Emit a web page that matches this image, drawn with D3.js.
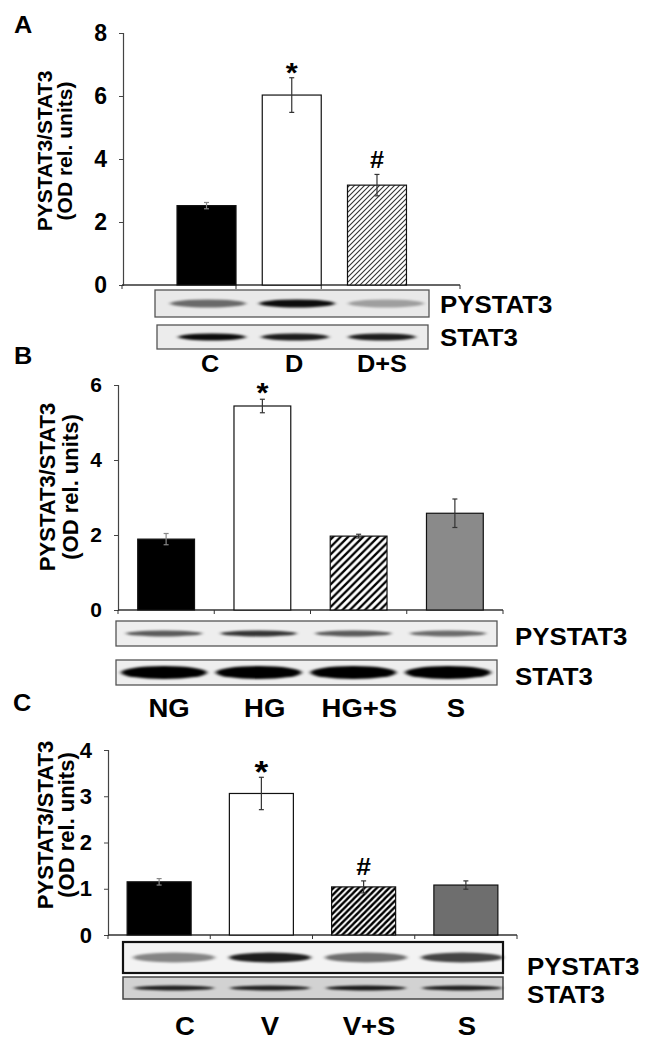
<!DOCTYPE html>
<html><head><meta charset="utf-8">
<script src="https://cdn.jsdelivr.net/npm/d3@7/dist/d3.min.js"></script>
<style>
body{margin:0;background:#fff;}
svg{display:block;font-family:"Liberation Sans",Arial,sans-serif;}
text{font-weight:bold;fill:#000;}
</style></head><body>
<svg id="fig" width="655" height="1050"></svg>
<script>
// ---------- DATA ----------
const catsA = ["C", "D", "D+S"];
const valsA = [2.52, 6.03, 3.17];
const errA  = [0.10, 0.55, 0.34];
const marksA = ["", "*", "#"];
const ticksA = [0, 2, 4, 6, 8];
const pyBandA = [0.55, 0.95, 0.32];
const stBandA = [0.95, 0.88, 0.88];

const catsB = ["NG", "HG", "HG+S", "S"];
const valsB = [1.89, 5.44, 1.97, 2.58];
const errB  = [0.15, 0.18, 0.05, 0.38];
const marksB = ["", "*", "", ""];
const ticksB = [0, 2, 4, 6];
const pyBandB = [0.62, 0.78, 0.62, 0.55];
const stBandB = [1, 1, 1, 1];

const catsC = ["C", "V", "V+S", "S"];
const valsC = [1.15, 3.06, 1.04, 1.08];
const errC  = [0.07, 0.35, 0.13, 0.09];
const marksC = ["", "*", "#", ""];
const ticksC = [0, 1, 2, 3, 4];
const pyBandC = [0.45, 0.88, 0.55, 0.72];
const stBandC = [0.85, 0.85, 0.88, 0.85];

const blotLabels = ["PYSTAT3", "STAT3"];
const yTitle = ["PYSTAT3/STAT3", "(OD rel. units)"];
const panelLetters = ["A", "B", "C"];

// ---------- DRAW ----------
const svg = d3.select("#fig");
const defs = svg.append("defs");
defs.append("filter").attr("id","blur").attr("x","-20%").attr("y","-100%").attr("width","140%").attr("height","300%")
  .append("feGaussianBlur").attr("stdDeviation","2.2 1.3");

function hatch(id, size, sw, color){
  const p = defs.append("pattern").attr("id",id).attr("patternUnits","userSpaceOnUse")
    .attr("width",size).attr("height",size);
  p.append("rect").attr("width",size).attr("height",size).attr("fill","#fff");
  p.append("path").attr("d",`M0,${size} L${size},0 M${-size/2},${size/2} L${size/2},${-size/2} M${size/2},${size*1.5} L${size*1.5},${size/2}`)
    .attr("stroke",color).attr("stroke-width",sw);
}
hatch("hA", 5, 1.1, "#333");
hatch("hB", 7.5, 2.3, "#000");
hatch("hC", 6.2, 2.4, "#000");

const SX = 1.1; // horizontal widening of the lettering, as in the scanned figure
function wideText(parent, x, y, str, size, anchor){
  return parent.append("text").attr("transform",`translate(${x},${y}) scale(${SX},1)`)
    .attr("text-anchor",anchor||"start").attr("font-size",size).text(str);
}

function panel(cfg){
  const g = svg.append("g");
  const x = d3.scaleBand().domain(cfg.cats).range(cfg.xr).paddingInner(cfg.pad).paddingOuter(cfg.pad/2);
  const y = d3.scaleLinear().domain([0, cfg.ticks[cfg.ticks.length-1]]).range(cfg.yr);
  const axisY = cfg.yr[0];

  // y axis
  const ya = g.append("g").attr("transform",`translate(${cfg.axisX},0)`)
    .call(d3.axisLeft(y).tickValues(cfg.ticks).tickFormat(d3.format("d")).tickSizeOuter(0).tickSize(4).tickPadding(12));
  ya.select(".domain").attr("stroke","#444").attr("stroke-width",1.2);
  ya.selectAll(".tick line").attr("stroke","#444");
  ya.selectAll("text").attr("font-size",cfg.tickFont).attr("font-weight","bold").attr("fill","#000")
    .attr("font-family",'"Liberation Sans",Arial,sans-serif');

  // x axis
  g.append("line").attr("x1",cfg.xLine[0]).attr("x2",cfg.xLine[1]).attr("y1",axisY).attr("y2",axisY)
    .attr("stroke","#333").attr("stroke-width",1.3);
  const step = x.step(), bw = x.bandwidth();
  const tickXs = cfg.xTicks === "edges"
    ? [cfg.xLine[0], x(cfg.cats[0])+bw, x(cfg.cats[1])+bw, cfg.xLine[1]]
    : d3.range(cfg.cats.length+1).map(i => cfg.xr[0] + i*step);
  g.selectAll(".xt").data(tickXs).join("line").attr("x1",d=>d).attr("x2",d=>d)
    .attr("y1",axisY).attr("y2",axisY+4).attr("stroke","#333");

  // bars
  g.selectAll(".bar").data(cfg.vals).join("rect")
    .attr("x",(d,i)=>x(cfg.cats[i])).attr("width",bw)
    .attr("y",d=>y(d)).attr("height",d=>axisY-y(d))
    .attr("fill",(d,i)=>cfg.fills[i]).attr("stroke","#111").attr("stroke-width",1.2);

  // error bars
  cfg.vals.forEach((v,i)=>{
    const cx = x(cfg.cats[i]) + bw/2;
    const y1 = y(v+cfg.err[i]), y2 = y(v-cfg.err[i]);
    const col = i===0 ? "#888" : "#333";
    g.append("line").attr("x1",cx).attr("x2",cx).attr("y1",y1).attr("y2",y2).attr("stroke",col).attr("stroke-width",1.2);
    g.append("line").attr("x1",cx-2.5).attr("x2",cx+2.5).attr("y1",y1).attr("y2",y1).attr("stroke",col).attr("stroke-width",1.2);
    g.append("line").attr("x1",cx-2.5).attr("x2",cx+2.5).attr("y1",y2).attr("y2",y2).attr("stroke",col).attr("stroke-width",1.2);
    const m = cfg.marks[i];
    if(m){
      wideText(g, cx, y1 - (m==="*"? cfg.starGap : cfg.hashGap), m, m==="*"?cfg.starFont:cfg.hashFont, "middle");
    }
  });

  // y title
  yTitle.forEach((t,k)=>{
    g.append("text").attr("transform",`translate(${cfg.titleX[k]},${cfg.titleY}) rotate(-90)`)
      .attr("text-anchor","middle").attr("font-size",cfg.titleFont).text(t);
  });

  // panel letter
  wideText(g, cfg.letter[0], cfg.letter[1], cfg.letterText, 23);

  // blots
  const lane = d3.scalePoint().domain(cfg.cats).range(cfg.laneR);
  cfg.blots.forEach((b,k)=>{
    g.append("rect").attr("x",b.x0).attr("y",b.y0).attr("width",b.x1-b.x0).attr("height",b.y1-b.y0)
      .attr("fill",b.bg).attr("stroke",b.stroke).attr("stroke-width",b.sw);
    const bg = g.append("g").attr("filter","url(#blur)");
    b.dens.forEach((dv,i)=>{
      bg.append("ellipse").attr("cx",lane(cfg.cats[i])+ (b.dx?b.dx[i]:0)).attr("cy",(b.y0+b.y1)/2 + (b.dy||0))
        .attr("rx",b.bw/2).attr("ry",b.bh/2).attr("fill","#000").attr("fill-opacity",dv);
    });
    wideText(g, cfg.blotLabelX, b.labelY, blotLabels[k], cfg.blotFont);
  });

  // category labels
  cfg.cats.forEach((c,i)=>{
    wideText(g, lane(c) + (cfg.catDx?cfg.catDx[i]:0), cfg.catY, c, cfg.catFont, "middle");
  });
}

panel({
  cats:catsA, vals:valsA, err:errA, marks:marksA, ticks:ticksA, letterText:panelLetters[0],
  xr:[163.9,419.6], pad:0.308, yr:[285,33], axisX:123, xLine:[122,460], xTicks:"edges",
  fills:["#000","#fff","url(#hA)"], tickFont:23, starFont:28, hashFont:23, starGap:-4, hashGap:6,
  titleX:[52,72], titleY:151, titleFont:21, letter:[14,33],
  laneR:[208,386], blotLabelX:440, blotFont:23.5, catY:372, catFont:23, catDx:[2,-3,-4],
  blots:[
    {x0:155,x1:429,y0:290,y1:317,bg:"#e9e9e9",stroke:"#555",sw:1.3,dens:pyBandA,bw:76,bh:8,labelY:313},
    {x0:157,x1:428,y0:325,y1:349,bg:"#ececec",stroke:"#555",sw:1.3,dens:stBandA,bw:68,bh:7,labelY:346,dx:[4,-2,-4]}
  ]
});

panel({
  cats:catsB, vals:valsB, err:errB, marks:marksB, ticks:ticksB, letterText:panelLetters[1],
  xr:[118,503], pad:0.41, yr:[610,385], axisX:118, xLine:[118,503], xTicks:"bands",
  fills:["#000","#fff","url(#hB)","#8a8a8a"], tickFont:21, starFont:28, hashFont:23, starGap:-3, hashGap:6,
  titleX:[55,78], titleY:487, titleFont:22, letter:[14,364],
  laneR:[164,448], blotLabelX:515, blotFont:23.5, catY:717, catFont:25, catDx:[5,6,6,8],
  blots:[
    {x0:116,x1:497,y0:621,y1:646,bg:"#eeeeee",stroke:"#555",sw:1.3,dens:pyBandB,bw:76,bh:6,labelY:645},
    {x0:116,x1:497,y0:660,y1:685,bg:"#eeeeee",stroke:"#555",sw:1.3,dens:stBandB,bw:86,bh:13,labelY:685}
  ]
});

panel({
  cats:catsC, vals:valsC, err:errC, marks:marksC, ticks:ticksC, letterText:panelLetters[2],
  xr:[108,517], pad:0.374, yr:[935,750], axisX:108, xLine:[108,517], xTicks:"bands",
  fills:["#000","#fff","url(#hC)","#6e6e6e"], tickFont:22, starFont:32, hashFont:24, starGap:-6, hashGap:6,
  titleX:[53,74], titleY:825, titleFont:22, letter:[13,711],
  laneR:[174,462], blotLabelX:527, blotFont:23.5, catY:1035, catFont:25, catDx:[11,0,3,5],
  blots:[
    {x0:123,x1:503,y0:942,y1:973,bg:"#f3f3f3",stroke:"#111",sw:2.2,dens:pyBandC,bw:82,bh:10,labelY:975},
    {x0:123,x1:503,y0:977,y1:999,bg:"#d2d2d2",stroke:"#444",sw:1.5,dens:stBandC,bw:80,bh:5,labelY:1003}
  ]
});
</script>
</body></html>
